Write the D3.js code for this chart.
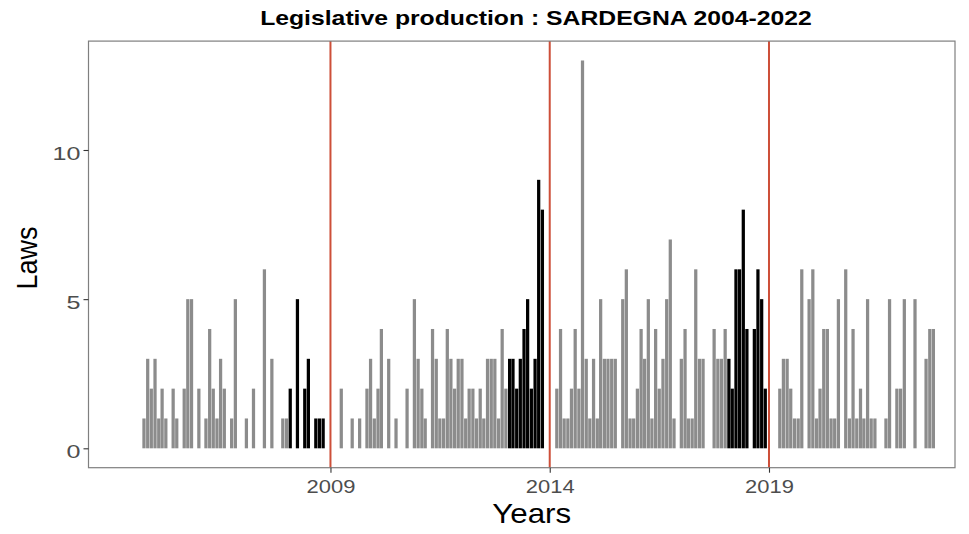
<!DOCTYPE html>
<html>
<head>
<meta charset="utf-8">
<script src="https://cdn.jsdelivr.net/npm/d3@7"></script>
<style>
  body { margin: 0; background: #fff; }
  text { font-family: "Liberation Sans", Arial, sans-serif; }
</style>
</head>
<body>
<div class="chart"></div>
<script>
// monthly counts of regional laws (months with no law are left out)
const months = [
  "2004-10","2004-11","2004-12","2005-01","2005-02","2005-03","2005-04","2005-06","2005-07","2005-09",
  "2005-10","2005-11","2006-01","2006-03","2006-04","2006-05","2006-06","2006-07","2006-08","2006-10",
  "2006-11","2007-02","2007-04","2007-07","2007-09","2007-12","2008-01","2008-02","2008-04","2008-06",
  "2008-07","2008-09","2008-10","2008-11",
  "2009-04","2009-07","2009-09","2009-11","2009-12","2010-01","2010-02","2010-03","2010-05","2010-07",
  "2010-10","2010-12","2011-01","2011-02","2011-03","2011-05","2011-06","2011-07","2011-08","2011-09",
  "2011-10","2011-11","2011-12","2012-01","2012-02","2012-03","2012-04","2012-05","2012-06","2012-07",
  "2012-08","2012-09","2012-10","2012-11","2012-12","2013-01","2013-02","2013-03","2013-04","2013-05",
  "2013-06","2013-07","2013-08","2013-09","2013-10","2013-11",
  "2014-03","2014-04","2014-05","2014-06","2014-07","2014-08","2014-09","2014-10","2014-11","2014-12",
  "2015-01","2015-02","2015-03","2015-04","2015-05","2015-06","2015-07","2015-09","2015-10","2015-11",
  "2015-12","2016-01","2016-02","2016-03","2016-04","2016-05","2016-06","2016-07","2016-08","2016-09",
  "2016-10","2016-11","2017-01","2017-02","2017-03","2017-04","2017-05","2017-06","2017-07","2017-10",
  "2017-11","2017-12","2018-01","2018-02","2018-03","2018-04","2018-05","2018-06","2018-07","2018-09",
  "2018-10","2018-11","2018-12",
  "2019-04","2019-05","2019-06","2019-07","2019-08","2019-09","2019-10","2019-12","2020-01","2020-02",
  "2020-03","2020-04","2020-05","2020-06","2020-07","2020-08","2020-10","2020-11","2020-12","2021-01",
  "2021-02","2021-03","2021-04","2021-05","2021-06","2021-09","2021-10","2021-12","2022-01","2022-02",
  "2022-05","2022-08","2022-09","2022-10"
];
const laws = [
  1,3,2,3,1,2,1,2,1,2,
  5,5,2,1,4,2,1,3,2,1,
  5,1,2,6,3,1,1,2,5,2,
  3,1,1,1,
  2,1,1,2,3,1,2,4,3,1,
  2,5,3,2,1,4,3,1,1,4,
  3,2,3,3,1,2,2,1,2,1,
  3,3,3,1,4,2,3,3,2,3,
  4,5,2,3,9,8,
  2,4,1,1,2,4,2,13,3,1,
  3,1,5,3,3,3,3,5,6,1,
  1,2,4,3,5,1,4,2,3,5,
  7,1,3,4,1,1,6,3,3,4,
  3,3,4,3,2,6,6,8,4,4,
  6,5,2,
  2,3,3,2,1,1,6,5,6,1,
  2,4,4,1,1,5,6,1,4,1,
  2,1,5,1,1,1,5,2,2,5,
  5,3,4,4
];

// regional elections (red lines) and the last year of each legislature (black bars)
const elections = ["2009-01-01", "2014-01-01", "2019-01-01"];
const lastYears = [["2008-02", "2008-12"], ["2013-02", "2013-12"], ["2018-02", "2018-12"]];

const width = 969, height = 534;
const panel = { left: 88.5, right: 955, top: 41.1, bottom: 467.7 };

const parseMonth = d3.utcParse("%Y-%m");
const parseDay = d3.utcParse("%Y-%m-%d");

const data = months.map((m, i) => {
  let date = parseMonth(m);
  let last = lastYears.some(p => date >= parseMonth(p[0]) && date <= parseMonth(p[1]));
  return { date: date, laws: laws[i], last: last };
});

const svg = d3.select("div.chart").append("svg")
    .attr("width", width)
    .attr("height", height);

const x = d3.scaleUtc()
    .domain([new Date(Date.UTC(2003, 5, 27)), new Date(Date.UTC(2023, 2, 30))])
    .range([panel.left, panel.right]);

const y = d3.scaleLinear()
    .domain([-0.65, 13.65])
    .range([panel.bottom, panel.top]);

// a bar covers most of its month, leaving a thin white gap
const barWidth = d => x(d3.utcDay.offset(d.date, 27)) - x(d.date);

svg.append("g").selectAll("rect")
    .data(data)
    .enter().append("rect")
    .attr("x", d => x(d.date) - barWidth(d) / 2)
    .attr("width", barWidth)
    .attr("y", d => y(d.laws))
    .attr("height", d => y(0) - y(d.laws))
    .style("fill", d => d.last ? "#000000" : "#8c8c8c");

svg.append("g").selectAll("line")
    .data(elections)
    .enter().append("line")
    .attr("x1", d => x(parseDay(d)))
    .attr("x2", d => x(parseDay(d)))
    .attr("y1", panel.top)
    .attr("y2", panel.bottom)
    .style("stroke", "#cd4f39")
    .style("stroke-width", 2);

svg.append("rect")
    .attr("x", panel.left)
    .attr("y", panel.top)
    .attr("width", panel.right - panel.left)
    .attr("height", panel.bottom - panel.top)
    .style("fill", "none")
    .style("stroke", "#7f7f7f")
    .style("stroke-width", 1.2);

// axes
let xAxis = svg.append("g")
    .attr("transform", `translate(0,${panel.bottom})`)
    .call(d3.axisBottom(x)
      .tickValues(elections.map(parseDay))
      .tickFormat(d3.utcFormat("%Y"))
      .tickSize(5)
      .tickPadding(7));

let yAxis = svg.append("g")
    .attr("transform", `translate(${panel.left},0)`)
    .call(d3.axisLeft(y).tickValues([0, 5, 10]).tickSize(5).tickPadding(3));

[xAxis, yAxis].forEach(ax => {
  ax.select(".domain").remove();
  ax.selectAll(".tick line").style("stroke", "#333333").style("stroke-width", 1.1);
  ax.selectAll(".tick text")
    .style("font-family", "'Liberation Sans', Arial, sans-serif")
    .style("font-size", "18.6px")
    .style("fill", "#4d4d4d");
});

xAxis.selectAll(".tick text").attr("transform", "scale(1.18,1)");
yAxis.selectAll(".tick text")
    .attr("x", 0)
    .attr("dy", "0.52em")
    .attr("transform", "translate(-8,0) scale(1.35,1)");

// titles
svg.append("text")
    .attr("transform", "translate(536,25) scale(1.27,1)")
    .attr("text-anchor", "middle")
    .style("font-weight", "bold")
    .style("font-size", "19.5px")
    .style("fill", "#000")
    .text("Legislative production : SARDEGNA 2004-2022");

svg.append("text")
    .attr("transform", "translate(531.7,523.3) scale(1.12,1)")
    .attr("text-anchor", "middle")
    .style("font-size", "28px")
    .style("fill", "#000")
    .text("Years");

svg.append("text")
    .attr("transform", "translate(36.7,258) scale(1.08,1) rotate(-90)")
    .attr("text-anchor", "middle")
    .style("font-size", "27px")
    .style("fill", "#000")
    .text("Laws");
</script>
</body>
</html>
